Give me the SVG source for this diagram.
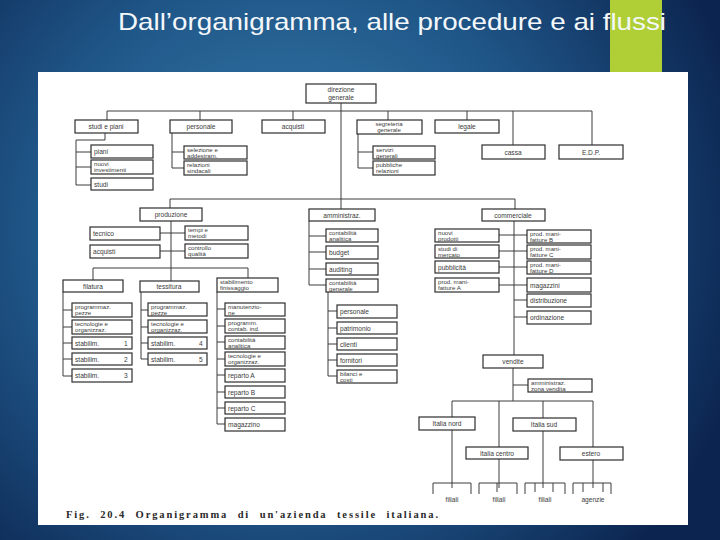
<svg xmlns="http://www.w3.org/2000/svg" width="720" height="540" viewBox="0 0 720 540">
<defs>
<radialGradient id="bg" cx="290" cy="230" r="470" gradientUnits="userSpaceOnUse">
<stop offset="0" stop-color="#3a80ad"/>
<stop offset="0.55" stop-color="#1f5688"/>
<stop offset="1" stop-color="#0c2550"/>
</radialGradient>
<style>
.b{fill:#fff;stroke:#2e2e2e;stroke-width:1.2}
.t{font-family:"Liberation Sans",Arial,sans-serif;font-size:6.6px;fill:#3a3a3a}
.d{font-size:6.1px}
.m{text-anchor:middle}
.c{stroke:#3c3c3c;stroke-width:1;fill:none}
</style>
</defs>
<rect x="0" y="0" width="720" height="540" fill="url(#bg)"/>
<rect x="610" y="0" width="52" height="73" fill="#b0cf36"/>
<text x="118" y="30" font-family="'Liberation Sans',Arial,sans-serif" font-size="24" fill="#f4f8fb" textLength="548" lengthAdjust="spacingAndGlyphs">Dall’organigramma, alle procedure e ai flussi</text>
<rect x="38" y="72" width="650" height="453" fill="#fff"/>

<g id="connectors" class="c">
<path d="M341,103V209M107,111H592M107,111V120M200,111V120M293,111V120M388,111V120M467,111V120M513,111V145M592,111V145"/>
<path d="M105,133V140H76V185H91M76,152H91M76,167H91"/>
<path d="M172,133V168H184M172,152H184"/>
<path d="M358,134V168H373M358,152H373"/>
<path d="M170,199H515M170,199V208M515,199V209"/>
<path d="M171,221V281M160,233H185M160,251H185M93,268H248M93,268V280M248,268V278"/>
<path d="M63,292V376H72M63,310H72M63,327H72M63,343H72M63,359H72"/>
<path d="M141,292V359H148M141,310H148M141,327H148M141,343H148"/>
<path d="M217,292V424H225M217,309H225M217,326H225M217,342H225M217,359H225M217,375H225M217,392H225M217,408H225"/>
<path d="M309,221V285H326M309,236H326M309,252H326M309,269H326"/>
<path d="M328,292V376H337M328,311H337M328,328H337M328,344H337M328,360H337"/>
<path d="M514,221V355M499,235H527M499,251H527M499,267H527M499,285H527M514,300H527M514,317H527"/>
<path d="M513,368V401M513,385H528M452,401H593M452,401V488M499,401V488M543,401V488M593,401V488"/>
<path d="M433,494V483H471V494M479,494V483H517V494M497,483V492M525,494V483H565V494M535,483V492M553,483V492M573,494V483H611V494M583,483V492M603,483V492"/>
</g>

<g id="n-direzione"><rect class="b" x="306" y="84" width="70" height="19"/><text class="t m" x="341" y="92">direzione<tspan x="341" dy="7.5">generale</tspan></text></g>
<g id="n-studi-piani"><rect class="b" x="75" y="120" width="63" height="13"/><text class="t m" x="106" y="129">studi e piani</text></g>
<g id="n-personale"><rect class="b" x="170" y="120" width="62" height="13"/><text class="t m" x="201" y="129">personale</text></g>
<g id="n-acquisti"><rect class="b" x="262" y="120" width="63" height="13"/><text class="t m" x="293" y="129">acquisti</text></g>
<g id="n-segreteria"><rect class="b" x="357" y="120" width="65" height="14"/><text class="t d m" x="389" y="125.8">segreteria<tspan x="389" dy="6">generale</tspan></text></g>
<g id="n-legale"><rect class="b" x="435" y="120" width="64" height="13"/><text class="t m" x="467" y="129">legale</text></g>
<g id="n-cassa"><rect class="b" x="482" y="145" width="63" height="14"/><text class="t m" x="513" y="154.5">cassa</text></g>
<g id="n-edp"><rect class="b" x="559" y="145" width="64" height="14"/><text class="t m" x="591" y="154.5">E.D.P.</text></g>

<g id="n-piani"><rect class="b" x="91" y="145" width="62" height="13"/><text class="t" x="94" y="154">piani</text></g>
<g id="n-nuovi-inv"><rect class="b" x="91" y="160" width="62" height="14"/><text class="t d" x="94" y="165.8">nuovi<tspan x="94" dy="6">investimenti</tspan></text></g>
<g id="n-studi"><rect class="b" x="91" y="178" width="62" height="12"/><text class="t" x="94" y="186.5">studi</text></g>
<g id="n-selezione"><rect class="b" x="184" y="146" width="63" height="13"/><text class="t d" x="187" y="151.6">selezione e<tspan x="187" dy="6">addestram.</tspan></text></g>
<g id="n-relazioni"><rect class="b" x="184" y="161" width="63" height="14"/><text class="t d" x="187" y="166.8">relazioni<tspan x="187" dy="6">sindacali</tspan></text></g>
<g id="n-servizi"><rect class="b" x="373" y="146" width="62" height="13"/><text class="t d" x="376" y="151.6">servizi<tspan x="376" dy="6">generali</tspan></text></g>
<g id="n-pubbliche"><rect class="b" x="373" y="161" width="62" height="14"/><text class="t d" x="376" y="166.8">pubbliche<tspan x="376" dy="6">relazioni</tspan></text></g>

<g id="n-produzione"><rect class="b" x="140" y="208" width="62" height="13"/><text class="t m" x="171" y="217">produzione</text></g>
<g id="n-amministraz"><rect class="b" x="309" y="209" width="66" height="12"/><text class="t m" x="342" y="217.5">amministraz.</text></g>
<g id="n-commerciale"><rect class="b" x="482" y="209" width="63" height="12"/><text class="t m" x="513" y="217.5">commerciale</text></g>

<g id="n-tecnico"><rect class="b" x="90" y="227" width="70" height="13"/><text class="t" x="93" y="236">tecnico</text></g>
<g id="n-acquisti2"><rect class="b" x="90" y="245" width="70" height="13"/><text class="t" x="93" y="254">acquisti</text></g>
<g id="n-tempi"><rect class="b" x="185" y="226" width="63" height="14"/><text class="t d" x="188" y="231.8">tempi e<tspan x="188" dy="6">metodi</tspan></text></g>
<g id="n-controllo"><rect class="b" x="185" y="244" width="63" height="14"/><text class="t d" x="188" y="249.8">controllo<tspan x="188" dy="6">qualità</tspan></text></g>

<g id="n-filatura"><rect class="b" x="63" y="280" width="60" height="12"/><text class="t m" x="93" y="288.5">filatura</text></g>
<g id="n-tessitura"><rect class="b" x="140" y="281" width="59" height="11"/><text class="t m" x="169" y="289">tessitura</text></g>
<g id="n-finissaggio"><rect class="b" x="217" y="278" width="61" height="14"/><text class="t d" x="220" y="283.8">stabilimento<tspan x="220" dy="6">finissaggio</tspan></text></g>

<g id="n-fil-prog"><rect class="b" x="72" y="303" width="60" height="14"/><text class="t d" x="75" y="308.8">programmaz.<tspan x="75" dy="6">pezze</tspan></text></g>
<g id="n-fil-tecn"><rect class="b" x="72" y="320" width="60" height="14"/><text class="t d" x="75" y="325.8">tecnologie e<tspan x="75" dy="6">organizzaz.</tspan></text></g>
<g id="n-stab1"><rect class="b" x="72" y="337" width="60" height="12"/><text class="t" x="75" y="345.5">stabilim.<tspan x="124">1</tspan></text></g>
<g id="n-stab2"><rect class="b" x="72" y="353" width="60" height="12"/><text class="t" x="75" y="361.5">stabilim.<tspan x="124">2</tspan></text></g>
<g id="n-stab3"><rect class="b" x="72" y="369" width="60" height="13"/><text class="t" x="75" y="378">stabilim.<tspan x="124">3</tspan></text></g>

<g id="n-tess-prog"><rect class="b" x="148" y="303" width="59" height="13"/><text class="t d" x="151" y="308.6">programmaz.<tspan x="151" dy="6">pezze</tspan></text></g>
<g id="n-tess-tecn"><rect class="b" x="148" y="320" width="59" height="13"/><text class="t d" x="151" y="325.6">tecnologie e<tspan x="151" dy="6">organizzaz.</tspan></text></g>
<g id="n-stab4"><rect class="b" x="148" y="337" width="59" height="12"/><text class="t" x="151" y="345.5">stabilim.<tspan x="199">4</tspan></text></g>
<g id="n-stab5"><rect class="b" x="148" y="353" width="59" height="12"/><text class="t" x="151" y="361.5">stabilim.<tspan x="199">5</tspan></text></g>

<g id="n-manut"><rect class="b" x="225" y="303" width="60" height="13"/><text class="t d" x="228" y="308.6">manutenzio-<tspan x="228" dy="6">ne</tspan></text></g>
<g id="n-progr-cont"><rect class="b" x="225" y="319" width="60" height="14"/><text class="t d" x="228" y="324.8">programm.<tspan x="228" dy="6">contab. ind.</tspan></text></g>
<g id="n-cont-an1"><rect class="b" x="225" y="336" width="60" height="13"/><text class="t d" x="228" y="341.6">contabilità<tspan x="228" dy="6">analitica</tspan></text></g>
<g id="n-fin-tecn"><rect class="b" x="225" y="352" width="60" height="14"/><text class="t d" x="228" y="357.8">tecnologie e<tspan x="228" dy="6">organizzaz.</tspan></text></g>
<g id="n-repA"><rect class="b" x="225" y="369" width="60" height="13"/><text class="t" x="228" y="378">reparto A</text></g>
<g id="n-repB"><rect class="b" x="225" y="386" width="60" height="12"/><text class="t" x="228" y="394.5">reparto B</text></g>
<g id="n-repC"><rect class="b" x="225" y="402" width="60" height="12"/><text class="t" x="228" y="410.5">reparto C</text></g>
<g id="n-magazzino"><rect class="b" x="225" y="418" width="60" height="13"/><text class="t" x="228" y="427">magazzino</text></g>

<g id="n-cont-an2"><rect class="b" x="326" y="229" width="52" height="13"/><text class="t d" x="329" y="234.6">contabilità<tspan x="329" dy="6">analitica</tspan></text></g>
<g id="n-budget"><rect class="b" x="326" y="246" width="52" height="13"/><text class="t" x="329" y="255">budget</text></g>
<g id="n-auditing"><rect class="b" x="326" y="263" width="52" height="12"/><text class="t" x="329" y="271.5">auditing</text></g>
<g id="n-cont-gen"><rect class="b" x="326" y="279" width="52" height="13"/><text class="t d" x="329" y="284.6">contabilità<tspan x="329" dy="6">generale</tspan></text></g>
<g id="n-personale2"><rect class="b" x="337" y="305" width="60" height="13"/><text class="t" x="340" y="314">personale</text></g>
<g id="n-patrimonio"><rect class="b" x="337" y="322" width="60" height="12"/><text class="t" x="340" y="330.5">patrimonio</text></g>
<g id="n-clienti"><rect class="b" x="337" y="338" width="60" height="12"/><text class="t" x="340" y="346.5">clienti</text></g>
<g id="n-fornitori"><rect class="b" x="337" y="354" width="60" height="12"/><text class="t" x="340" y="362.5">fornitori</text></g>
<g id="n-bilanci"><rect class="b" x="337" y="370" width="60" height="13"/><text class="t d" x="340" y="375.6">bilanci e<tspan x="340" dy="6">costi</tspan></text></g>

<g id="n-nuovi-prod"><rect class="b" x="435" y="229" width="64" height="13"/><text class="t d" x="438" y="234.6">nuovi<tspan x="438" dy="6">prodotti</tspan></text></g>
<g id="n-studi-merc"><rect class="b" x="435" y="245" width="64" height="13"/><text class="t d" x="438" y="250.6">studi di<tspan x="438" dy="6">mercato</tspan></text></g>
<g id="n-pubblicita"><rect class="b" x="435" y="261" width="64" height="12"/><text class="t" x="438" y="269.5">pubblicità</text></g>
<g id="n-manA"><rect class="b" x="435" y="278" width="64" height="14"/><text class="t d" x="438" y="283.8">prod. mani-<tspan x="438" dy="6">fatture A</tspan></text></g>
<g id="n-manB"><rect class="b" x="527" y="230" width="64" height="13"/><text class="t d" x="530" y="235.6">prod. mani-<tspan x="530" dy="6">fatture B</tspan></text></g>
<g id="n-manC"><rect class="b" x="527" y="245" width="64" height="14"/><text class="t d" x="530" y="250.8">prod. mani-<tspan x="530" dy="6">fatture C</tspan></text></g>
<g id="n-manD"><rect class="b" x="527" y="261" width="64" height="13"/><text class="t d" x="530" y="266.6">prod. mani-<tspan x="530" dy="6">fatture D</tspan></text></g>
<g id="n-magazzini"><rect class="b" x="527" y="278" width="64" height="14"/><text class="t" x="530" y="287.5">magazzini</text></g>
<g id="n-distribuzione"><rect class="b" x="527" y="294" width="64" height="13"/><text class="t" x="530" y="303">distribuzione</text></g>
<g id="n-ordinazione"><rect class="b" x="527" y="311" width="64" height="13"/><text class="t" x="530" y="320">ordinazione</text></g>

<g id="n-vendite"><rect class="b" x="483" y="355" width="60" height="13"/><text class="t m" x="513" y="364">vendite</text></g>
<g id="n-amm-zona"><rect class="b" x="528" y="379" width="64" height="13"/><text class="t d" x="531" y="384.6">amministraz.<tspan x="531" dy="6">zona vendita</tspan></text></g>
<g id="n-nord"><rect class="b" x="419" y="417" width="56" height="13"/><text class="t m" x="447" y="426">Italia nord</text></g>
<g id="n-centro"><rect class="b" x="466" y="447" width="62" height="12"/><text class="t m" x="497" y="455.5">Italia centro</text></g>
<g id="n-sud"><rect class="b" x="513" y="418" width="63" height="13"/><text class="t m" x="544" y="427">Italia sud</text></g>
<g id="n-estero"><rect class="b" x="560" y="447" width="63" height="13"/><text class="t m" x="591" y="456">estero</text></g>

<g id="labels-bottom">
<text class="t m" x="452" y="502" font-size="6">filiali</text>
<text class="t m" x="499" y="502" font-size="6">filiali</text>
<text class="t m" x="545" y="502" font-size="6">filiali</text>
<text class="t m" x="593" y="502" font-size="6">agenzie</text>
</g>
<text x="66" y="518" font-family="'Liberation Serif','Times New Roman',serif" font-weight="bold" font-size="10.5" fill="#2a2a2a" word-spacing="5" textLength="372" lengthAdjust="spacing">Fig. 20.4   Organigramma di un'azienda tessile italiana.</text>
</svg>
